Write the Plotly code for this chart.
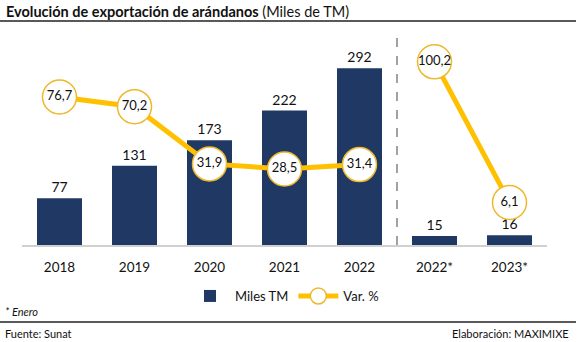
import plotly.graph_objects as go

categories = ["2018", "2019", "2020", "2021", "2022", "2022*", "2023*"]
miles_tm = [77, 131, 173, 222, 292, 15, 16]
var_pct_annual = [76.7, 70.2, 31.9, 28.5, 31.4]
var_pct_jan = [100.2, 6.1]

FONT = "Lato"
NAVY = "#203864"
GOLD = "#FFC000"

xs = list(range(len(categories)))

def fmt(v):
    return f"{v:.1f}".replace(".", ",")

fig = go.Figure()
fig.add_trace(go.Bar(
    x=xs, y=miles_tm, name="Miles TM", marker=dict(color=NAVY, line=dict(width=0)),
    width=0.6, text=[str(v) for v in miles_tm], textposition="outside",
    textfont=dict(size=14, color="#111", family=FONT), cliponaxis=False,
))
line_style = dict(
    mode="lines+markers+text", line=dict(color=GOLD, width=5),
    marker=dict(size=34, color="white", line=dict(color="#EDB92E", width=1.5)),
    textposition="middle center", textfont=dict(size=13, color="#111", family=FONT),
    yaxis="y2", cliponaxis=False,
)
fig.add_trace(go.Scatter(x=xs[:5], y=var_pct_annual, name="Var. %",
                         text=[fmt(v) for v in var_pct_annual], **line_style))
fig.add_trace(go.Scatter(x=xs[5:], y=var_pct_jan, name="Var. %", showlegend=False,
                         text=[fmt(v) for v in var_pct_jan], **line_style))

W, H = 577, 342
ml, mr, mt, mb = 22, 30, 33, 97
pw, ph = W - ml - mr, H - mt - mb

def px(x):
    return (x - ml) / pw

def py(y):
    return (H - mb - y) / ph

shapes = [
    dict(type="line", xref="paper", yref="paper", x0=px(0), x1=px(576), y0=py(21), y1=py(21),
         line=dict(color="#222", width=1.5)),
    dict(type="line", xref="paper", yref="paper", x0=px(0), x1=px(576), y0=py(322), y1=py(322),
         line=dict(color="#222", width=1.5)),
    dict(type="line", xref="x", yref="paper", x0=4.5, x1=4.5, y0=0, y1=py(35),
         line=dict(color="#444", width=1, dash="dash")),
]

annotations = [
    dict(xref="paper", yref="paper", x=px(4), y=py(12), xanchor="left", yanchor="middle",
         text="<b>Evolución de exportación de arándanos</b> (Miles de TM)", showarrow=False,
         font=dict(size=14.5, color="#111", family=FONT)),
    dict(xref="paper", yref="paper", x=px(3), y=py(311), xanchor="left", yanchor="middle",
         text="<i>* Enero</i>", showarrow=False, font=dict(size=11, color="#111", family=FONT)),
    dict(xref="paper", yref="paper", x=px(3), y=py(333), xanchor="left", yanchor="middle",
         text="Fuente: Sunat", showarrow=False, font=dict(size=11, color="#111", family=FONT)),
    dict(xref="paper", yref="paper", x=px(571), y=py(333), xanchor="right", yanchor="middle",
         text="Elaboración: MAXIMIXE", showarrow=False, font=dict(size=11, color="#111", family=FONT)),
]

fig.update_layout(
    width=W, height=H, margin=dict(l=ml, r=mr, t=mt, b=mb),
    paper_bgcolor="white", plot_bgcolor="white",
    font=dict(family=FONT, color="#111"),
    showlegend=True,
    legend=dict(orientation="h", x=0.5, xanchor="center", y=py(296), yanchor="middle",
                font=dict(size=13, family=FONT), itemwidth=40, bgcolor="rgba(0,0,0,0)"),
    xaxis=dict(tickvals=xs, ticktext=categories, range=[-0.5, 6.5], showgrid=False,
               showline=True, linecolor="#D0D0D0", linewidth=1.5, ticks="",
               ticklabelstandoff=9,
               tickfont=dict(size=13.5, family=FONT, color="#111"), zeroline=False),
    yaxis=dict(range=[0, 350], visible=False, showgrid=False, zeroline=False),
    yaxis2=dict(range=[-22.4, 119.5], overlaying="y", visible=False, showgrid=False, zeroline=False),
    shapes=shapes, annotations=annotations, bargap=0.4,
)

fig.write_html("out.html")
